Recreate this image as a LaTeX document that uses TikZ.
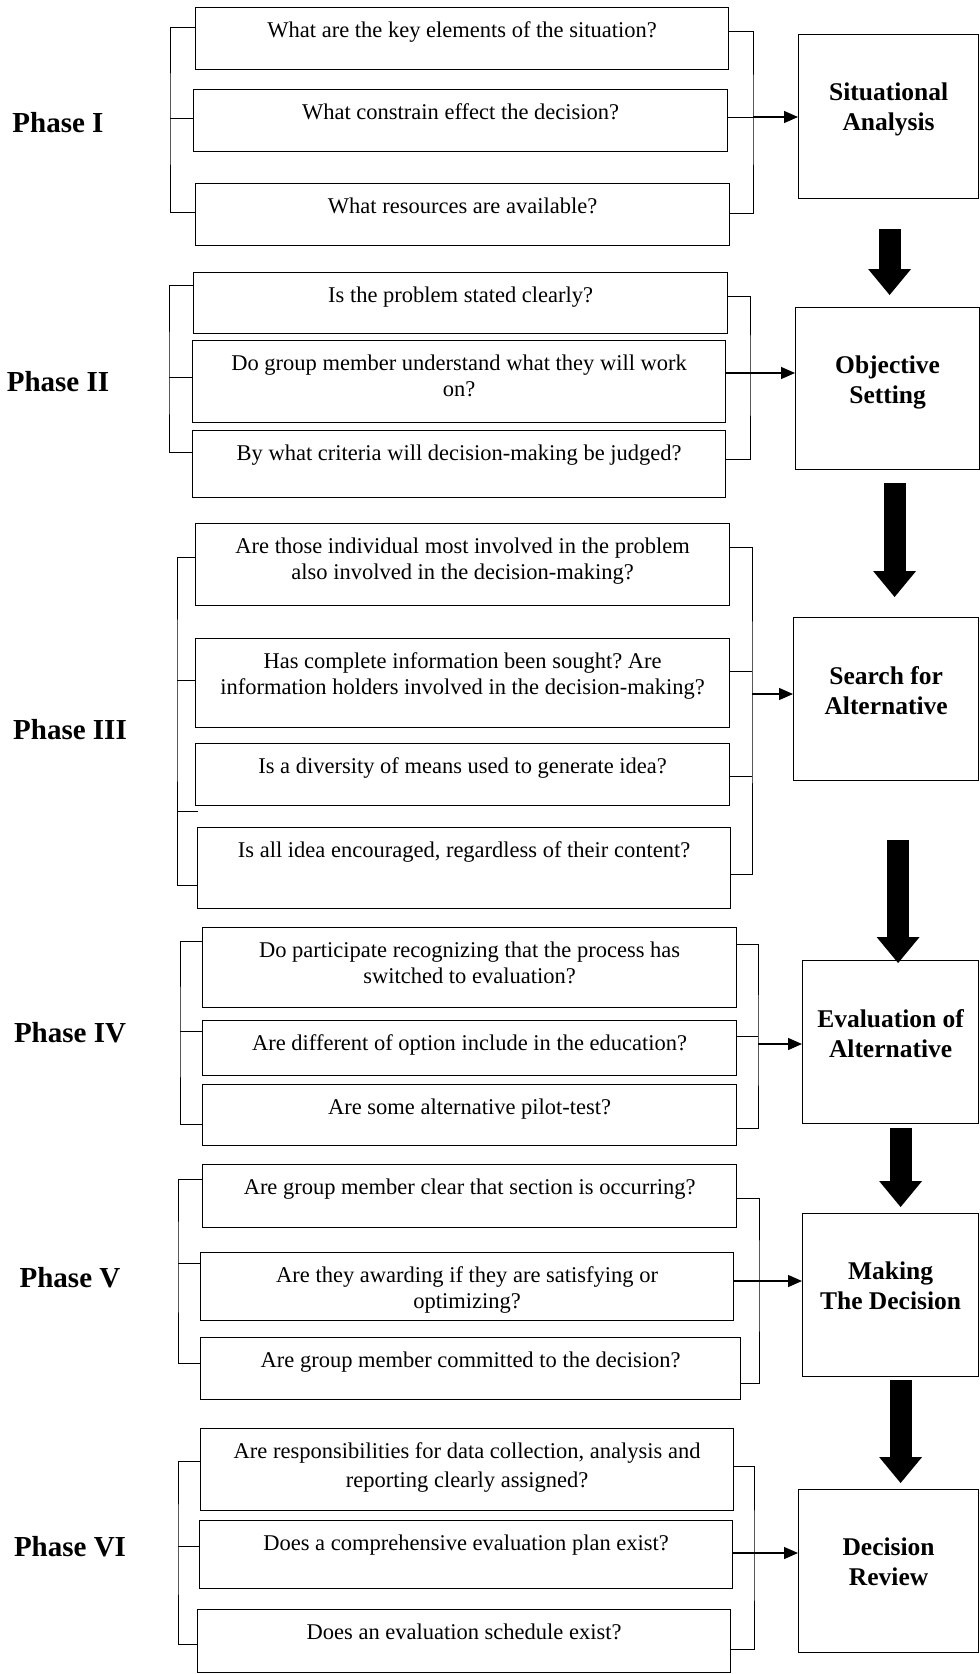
\documentclass[tikz,border=0pt]{standalone}
\usepackage{fontspec}
\setmainfont{Liberation Serif}
\usetikzlibrary{positioning, arrows.meta}
\frenchspacing

\newcommand{\qfont}{\fontsize{22.5}{26}\selectfont}
\newcommand{\stagefont}{\fontsize{25.5}{30}\selectfont\bfseries}
\newcommand{\phasefont}{\fontsize{29}{34}\selectfont\bfseries}

\begin{document}
\begin{tikzpicture}[x=1pt, y=-1pt,
    qbox/.style={draw, line width=1.2pt, anchor=north west, inner sep=0pt},
    qtext/.style={align=center, inner sep=0pt, font=\qfont},
    stage/.style={draw, line width=1.2pt, anchor=north west, inner sep=0pt},
    stagetext/.style={align=center, inner sep=0pt, font=\stagefont},
    phase/.style={inner sep=0pt, font=\phasefont},
    bracket/.style={line width=1pt},
    feed/.style={line width=1.3pt, -{Triangle[length=14pt, width=12pt]}},
    bigarrow/.style={line width=22pt, -{Triangle[length=26pt, width=43pt, line width=0pt]}}]

    \useasboundingbox (0,0) rectangle (980,1674);

    % Stages on the right
    \node[stage, minimum width=180pt, minimum height=164pt] (SA) at (798,34) {};
    \node[stage, minimum width=184pt, minimum height=162pt] (OS) at (795,307) {};
    \node[stage, minimum width=185pt, minimum height=163pt] (SfA) at (793,617) {};
    \node[stage, minimum width=176pt, minimum height=163pt] (EoA) at (802,960) {};
    \node[stage, minimum width=176pt, minimum height=163pt] (MtD) at (802,1213) {};
    \node[stage, minimum width=180pt, minimum height=163pt] (DR) at (798,1489) {};
    \node[stagetext, below=49pt of SA.north] (tSA) {Situational\\Analysis};
    \node[stagetext, below=49pt of OS.north] (tOS) {Objective\\Setting};
    \node[stagetext, below=49pt of SfA.north] (tSfA) {Search for\\Alternative};
    \node[stagetext, below=49pt of EoA.north] (tEoA) {Evaluation of\\Alternative};
    \node[stagetext, below=49pt of MtD.north] (tMtD) {Making\\The Decision};
    \node[stagetext, below=49pt of DR.north] (tDR) {Decision\\Review};

    % Big arrows between stages
    \draw[bigarrow] ([xshift=1pt, yshift=-30pt]SA.south) -- ([xshift=1pt, yshift=12pt]SA.south |- OS.north);
    \draw[bigarrow] ([xshift=7pt, yshift=-13pt]OS.south) -- ([xshift=7pt, yshift=20pt]OS.south |- SfA.north);
    \draw[bigarrow] ([xshift=12pt, yshift=-59pt]SfA.south) -- ([xshift=12pt, yshift=-3pt]SfA.south |- EoA.north);
    \draw[bigarrow] ([xshift=10pt, yshift=-4pt]EoA.south) -- ([xshift=10pt, yshift=6pt]EoA.south |- MtD.north);
    \draw[bigarrow] ([xshift=10pt, yshift=-3pt]MtD.south) -- ([xshift=10pt, yshift=6pt]MtD.south |- DR.north);

    % Phase I
    \node[phase] (p1) at (58,123) {Phase I};
    \node[qbox, minimum width=533pt, minimum height=62pt] (q11) at (195,7) {};
    \node[qbox, minimum width=534pt, minimum height=62pt] (q12) at (193,89) {};
    \node[qbox, minimum width=534pt, minimum height=62pt] (q13) at (195,183) {};
    \node[qtext, below=14.5pt of q11.north] (t11) {What are the key elements of the situation?};
    \node[qtext, below=14.5pt of q12.north] (t12) {What constrain effect the decision?};
    \node[qtext, below=14.5pt of q13.north] (t13) {What resources are available?};
    \coordinate (l1) at (170,118);
    \coordinate (r1) at (753,117);
    \draw[bracket] (q11.west |- 0,27) -| (l1) |- (q13.west |- 0,212);
    \draw[bracket] (l1) -- (l1 -| q12.west);
    \draw[bracket] (q11.east |- 0,31) -| (r1) |- (q13.east |- 0,213);
    \draw[bracket] (q12.east |- r1) -- (r1);
    \draw[feed] (r1) -- (r1 -| SA.west);

    % Phase II
    \node[phase] (p2) at (58,382) {Phase II};
    \node[qbox, minimum width=534pt, minimum height=61pt] (q21) at (193,272) {};
    \node[qbox, minimum width=533pt, minimum height=82pt] (q22) at (192,340) {};
    \node[qbox, minimum width=533pt, minimum height=67pt] (q23) at (192,430) {};
    \node[qtext, below=14.5pt of q21.north] (t21) {Is the problem stated clearly?};
    \node[qtext, below=14.5pt of q22.north] (t22) {Do group member understand what they will work\\on?};
    \node[qtext, below=14.5pt of q23.north] (t23) {By what criteria will decision-making be judged?};
    \coordinate (l2) at (169,377);
    \coordinate (r2) at (750,373);
    \draw[bracket] (q21.west |- 0,285) -| (l2) |- (q23.west |- 0,452);
    \draw[bracket] (l2) -- (l2 -| q22.west);
    \draw[bracket] (q21.east |- 0,296) -| (r2) |- (q23.east |- 0,459);
    \draw[feed] (q22.east |- r2) -- (r2 -| OS.west);

    % Phase III
    \node[phase] (p3) at (70,730) {Phase III};
    \node[qbox, minimum width=534pt, minimum height=82pt] (q31) at (195,523) {};
    \node[qbox, minimum width=534pt, minimum height=89pt] (q32) at (195,638) {};
    \node[qbox, minimum width=534pt, minimum height=62pt] (q33) at (195,743) {};
    \node[qbox, minimum width=533pt, minimum height=81pt] (q34) at (197,827) {};
    \node[qtext, below=14.5pt of q31.north] (t31) {Are those individual most involved in the problem\\also involved in the decision-making?};
    \node[qtext, below=14.5pt of q32.north] (t32) {Has complete information been sought? Are\\information holders involved in the decision-making?};
    \node[qtext, below=14.5pt of q33.north] (t33) {Is a diversity of means used to generate idea?};
    \node[qtext, below=14.5pt of q34.north] (t34) {Is all idea encouraged, regardless of their content?};
    \coordinate (l3) at (177,680);
    \coordinate (l3x) at (198,811);
    \coordinate (r3) at (752,694);
    \draw[bracket] (q31.west |- 0,557) -| (l3) |- (q34.west |- 0,885);
    \draw[bracket] (l3) -- (l3 -| q32.west);
    \draw[bracket] (l3 |- l3x) -- (l3x);
    \draw[bracket] (q31.east |- 0,547) -| (r3) |- (q34.east |- 0,874);
    \draw[bracket] (q32.east |- 0,671) -- (r3 |- 0,671);
    \draw[bracket] (q33.east |- 0,776) -- (r3 |- 0,776);
    \draw[feed] (r3) -- (r3 -| SfA.west);

    % Phase IV
    \node[phase] (p4) at (70,1033) {Phase IV};
    \node[qbox, minimum width=534pt, minimum height=80pt] (q41) at (202,927) {};
    \node[qbox, minimum width=534pt, minimum height=55pt] (q42) at (202,1020) {};
    \node[qbox, minimum width=534pt, minimum height=61pt] (q43) at (202,1084) {};
    \node[qtext, below=14.5pt of q41.north] (t41) {Do participate recognizing that the process has\\switched to evaluation?};
    \node[qtext, below=14.5pt of q42.north] (t42) {Are different of option include in the education?};
    \node[qtext, below=14.5pt of q43.north] (t43) {Are some alternative pilot-test?};
    \coordinate (l4) at (180,1031);
    \coordinate (r4) at (758,1044);
    \draw[bracket] (q41.west |- 0,941) -| (l4) |- (q43.west |- 0,1124);
    \draw[bracket] (l4) -- (l4 -| q42.west);
    \draw[bracket] (q41.east |- 0,944) -| (r4) |- (q43.east |- 0,1128);
    \draw[bracket] (q42.east |- 0,1036) -- (r4 |- 0,1036);
    \draw[feed] (r4) -- (r4 -| EoA.west);

    % Phase V
    \node[phase] (p5) at (70,1278) {Phase V};
    \node[qbox, minimum width=534pt, minimum height=63pt] (q51) at (202,1164) {};
    \node[qbox, minimum width=533pt, minimum height=68pt] (q52) at (200,1252) {};
    \node[qbox, minimum width=540pt, minimum height=62pt] (q53) at (200,1337) {};
    \node[qtext, below=14.5pt of q51.north] (t51) {Are group member clear that section is occurring?};
    \node[qtext, below=14.5pt of q52.north] (t52) {Are they awarding if they are satisfying or\\optimizing?};
    \node[qtext, below=14.5pt of q53.north] (t53) {Are group member committed to the decision?};
    \coordinate (l5) at (178,1263);
    \coordinate (r5) at (759,1281);
    \draw[bracket] (q51.west |- 0,1179) -| (l5) |- (q53.west |- 0,1363);
    \draw[bracket] (l5) -- (l5 -| q52.west);
    \draw[bracket] (q51.east |- 0,1198) -| (r5) |- (q53.east |- 0,1383);
    \draw[feed] (q52.east |- r5) -- (r5 -| MtD.west);

    % Phase VI
    \node[phase] (p6) at (70,1547) {Phase VI};
    \node[qbox, minimum width=533pt, minimum height=82pt] (q61) at (200,1428) {};
    \node[qbox, minimum width=533pt, minimum height=68pt] (q62) at (199,1520) {};
    \node[qbox, minimum width=533pt, minimum height=63pt] (q63) at (197,1609) {};
    \node[qtext, font=\fontsize{22.5}{29}\selectfont, below=14.5pt of q61.north] (t61) {Are responsibilities for data collection, analysis and\\reporting clearly assigned?};
    \node[qtext, below=14.5pt of q62.north] (t62) {Does a comprehensive evaluation plan exist?};
    \node[qtext, below=14.5pt of q63.north] (t63) {Does an evaluation schedule exist?};
    \coordinate (l6) at (178,1546);
    \coordinate (r6) at (754,1553);
    \draw[bracket] (q61.west |- 0,1461) -| (l6) |- (q63.west |- 0,1644);
    \draw[bracket] (l6) -- (l6 -| q62.west);
    \draw[bracket] (q61.east |- 0,1466) -| (r6) |- (q63.east |- 0,1649);
    \draw[feed] (q62.east |- r6) -- (r6 -| DR.west);
\end{tikzpicture}
\end{document}
